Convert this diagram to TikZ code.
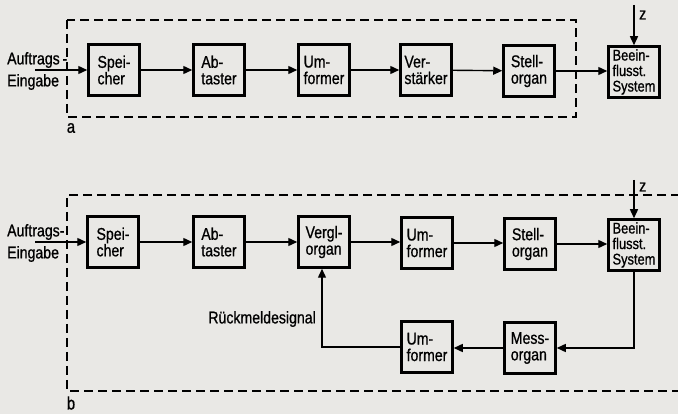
\documentclass[tikz,border=0pt]{standalone}
\usepackage{fontspec}
\setmainfont{Liberation Sans}[FakeStretch=0.83,FakeBold=0.8]
\usetikzlibrary{arrows.meta}
\definecolor{paper}{RGB}{233,232,229}

\begin{document}
\begin{tikzpicture}[x=1pt,y=-1pt,
		block/.style={draw,line width=3pt,minimum width=50.5pt,minimum height=50.5pt,inner sep=0pt,align=left,font=\fontsize{17}{16.5}\selectfont},
		flow/.style={line width=1.4pt,-{Triangle[length=9pt,width=8pt]}},
		frame/.style={line width=1.2pt,dash pattern=on 9pt off 5pt},
		lbl/.style={font=\fontsize{17}{22}\selectfont,align=left,inner sep=0pt}]
				%\draw[help lines] (0,0) grid[step=50] (678,414);
				\fill[paper] (0,0) rectangle (678,414);
				\useasboundingbox (0,0) rectangle (678,414);
				
				% a
				\draw[frame] (67,20) rectangle (576,117);
				\node[block] (a1) at (114,70) {Spei-\\cher};
				\node[block] (a2) at (219,70) {Ab-\\taster};
				\node[block] (a3) at (324,70) {Um-\\former};
				\node[block] (a4) at (426,70) {Ver-\\stärker};
				\node[block] (a5) at (529,71) {Stell-\\organ};
				{\node[block,font=\fontsize{15.5}{15.5}\selectfont] (a6) at (634,72) {Beein-\\flusst.\\System};}
				\node[lbl,anchor=west] (ina) at (7,71) {Auftrags\,-\\Eingabe};
				\coordinate (sa) at (35,70);
				\coordinate (za) at (634,5);
				\node[lbl,anchor=west] (lza) at (639,15) {z};
				\node[lbl,font=\fontsize{18}{18}\selectfont] (na) at (71,128) {a};
				
				\draw[flow] (sa) -- (a1);
				\draw[flow] (a1) -- (a2);
				\draw[flow] (a2) -- (a3);
				\draw[flow] (a3) -- (a4);
				\draw[flow] (a4) -- (a5);
				\draw[flow] (a5) -- (a5 -| a6.west);
				\draw[flow] (za) -- (a6);
				
				% b
				\draw[frame] (680,195) -- (67,195) -- (67,391) -- (680,391);
				\node[block] (b1) at (113,242) {Spei-\\cher};
				\node[block] (b2) at (219,242) {Ab-\\taster};
				\node[block] (b3) at (324,242) {Vergl-\\organ};
				\node[block] (b4) at (427,243) {Um-\\former};
				\node[block] (b5) at (530,244) {Stell-\\organ};
				{\node[block,font=\fontsize{15.5}{15.5}\selectfont] (b6) at (634,245) {Beein-\\flusst.\\System};}
				\node[block] (b7) at (530,348) {Mess-\\organ};
				\node[block] (b8) at (427,347) {Um-\\former};
				\node[lbl,anchor=west] (inb) at (7,243) {Auftrags-\\Eingabe};
				\coordinate (sb) at (35,242);
				\coordinate (zb) at (634,180);
				\node[lbl,anchor=west] (lzb) at (639,187) {z};
				\node[lbl,anchor=east] (rs) at (316,319) {Rückmeldesignal};
				\node[lbl,font=\fontsize{18}{18}\selectfont] (nb) at (71,403) {b};
				
				\draw[flow] (sb) -- (b1);
				\draw[flow] (b1) -- (b2);
				\draw[flow] (b2) -- (b3);
				\draw[flow] (b3) -- (b3 -| b4.west);
				\draw[flow] (b4) -- (b4 -| b5.west);
				\draw[flow] (b5) -- (b5 -| b6.west);
				\draw[flow] (zb) -- (b6);
				\draw[flow] (b6) |- (b7);
				\draw[flow] (b7) -- (b7 -| b8.east);
				\draw[flow] (b8.west) -| ([xshift=-2pt]b3.south);
\end{tikzpicture}
\end{document}
